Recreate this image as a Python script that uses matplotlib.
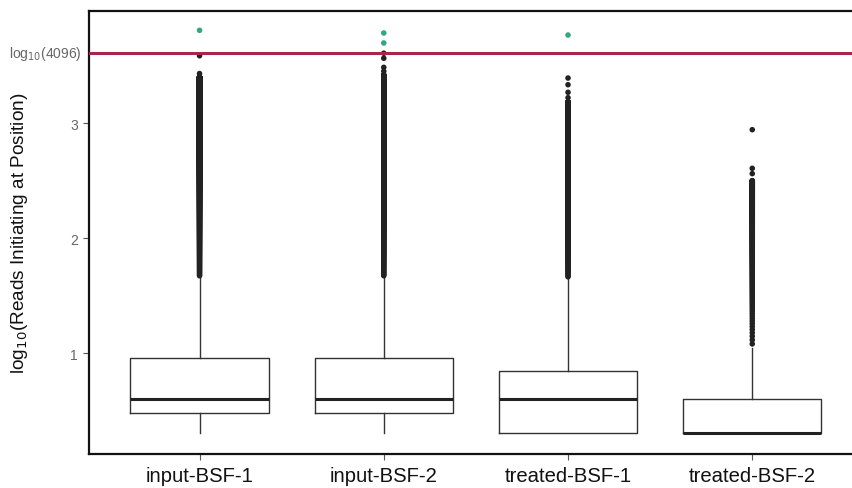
import numpy as np
import matplotlib
matplotlib.use("Agg")
import matplotlib.pyplot as plt

plt.rcParams["font.family"] = ["Liberation Sans", "DejaVu Sans"]

# Samples and per-sample box statistics (log10 read counts)
samples = ["input-BSF-1", "input-BSF-2", "treated-BSF-1", "treated-BSF-2"]
whisker_low = [0.301, 0.301, 0.301, 0.301]
q1 = [0.477, 0.477, 0.301, 0.301]
median = [0.602, 0.602, 0.602, 0.301]
q3 = [0.954, 0.954, 0.845, 0.602]
whisker_high = [1.663, 1.663, 1.653, 1.041]

# Outlier read counts: every integer count in these spans is present
outlier_count_span = [(47, 2500), (47, 2600), (46, 1520), (12, 315)]
# Sparse outliers at the top of each column (log10 counts)
sparse_outliers = [
    [3.43, 3.585, 3.806],
    [3.45, 3.484, 3.563, 3.607, 3.696, 3.783],
    [3.22, 3.267, 3.333, 3.391, 3.765],
    [2.56, 2.606, 2.942],
]

y_ticks = [1, 2, 3]
threshold_count = 4096
threshold = np.log10(threshold_count)

fig = plt.figure(figsize=(8.52, 4.89), dpi=100)
ax = fig.add_axes([89 / 852, 34 / 489, 773.8 / 852, 443 / 489])

positions = np.arange(1, len(samples) + 1)
stats = []
for i, name in enumerate(samples):
    stats.append(dict(label=name, whislo=whisker_low[i], q1=q1[i], med=median[i],
                      q3=q3[i], whishi=whisker_high[i], fliers=[]))

ax.bxp(stats, positions=positions, widths=0.75, showfliers=False, showcaps=False,
       boxprops=dict(color="#333333", linewidth=1.0),
       whiskerprops=dict(color="#333333", linewidth=1.0),
       medianprops=dict(color="#222222", linewidth=2.2),
       zorder=2)

for i, pos in enumerate(positions):
    lo, hi = outlier_count_span[i]
    vals = np.concatenate([np.log10(np.arange(lo, hi + 1)), np.array(sparse_outliers[i])])
    colors = np.where(vals > threshold, "#33a87e", "#222222")
    ax.scatter(np.full(vals.shape, pos), vals, s=16, c=colors, linewidths=0, zorder=3)

# Threshold line with its label in the left margin
ax.axhline(threshold, color="#a8254f", linewidth=2.2, zorder=4)
ax.text(-7 / 773.8, threshold, r"log$_{10}$(4096)", transform=ax.get_yaxis_transform(),
        ha="right", va="center", fontsize=10, color="#666666", clip_on=False)

ax.set_xlim(0.4, 4.6)
ax.set_ylim(0.122, 3.974)

ax.set_xticks(positions)
ax.set_xticklabels(samples, fontsize=14.6, color="#111111")
ax.set_yticks(y_ticks)
ax.set_yticklabels([str(t) for t in y_ticks], fontsize=10, color="#666666")
ax.tick_params(axis="both", color="#555555", length=4, width=0.8)
ax.tick_params(axis="x", pad=5)
ax.tick_params(axis="y", pad=4)

ax.set_ylabel(r"log$_{10}$(Reads Initiating at Position)", fontsize=13.7, color="#111111")
ax.yaxis.set_label_coords(-0.076, 0.5)

for side in ["left", "bottom", "top"]:
    ax.spines[side].set_linewidth(1.6)
    ax.spines[side].set_color("#111111")
ax.spines["right"].set_visible(False)

fig.savefig("out.png", dpi=100)
